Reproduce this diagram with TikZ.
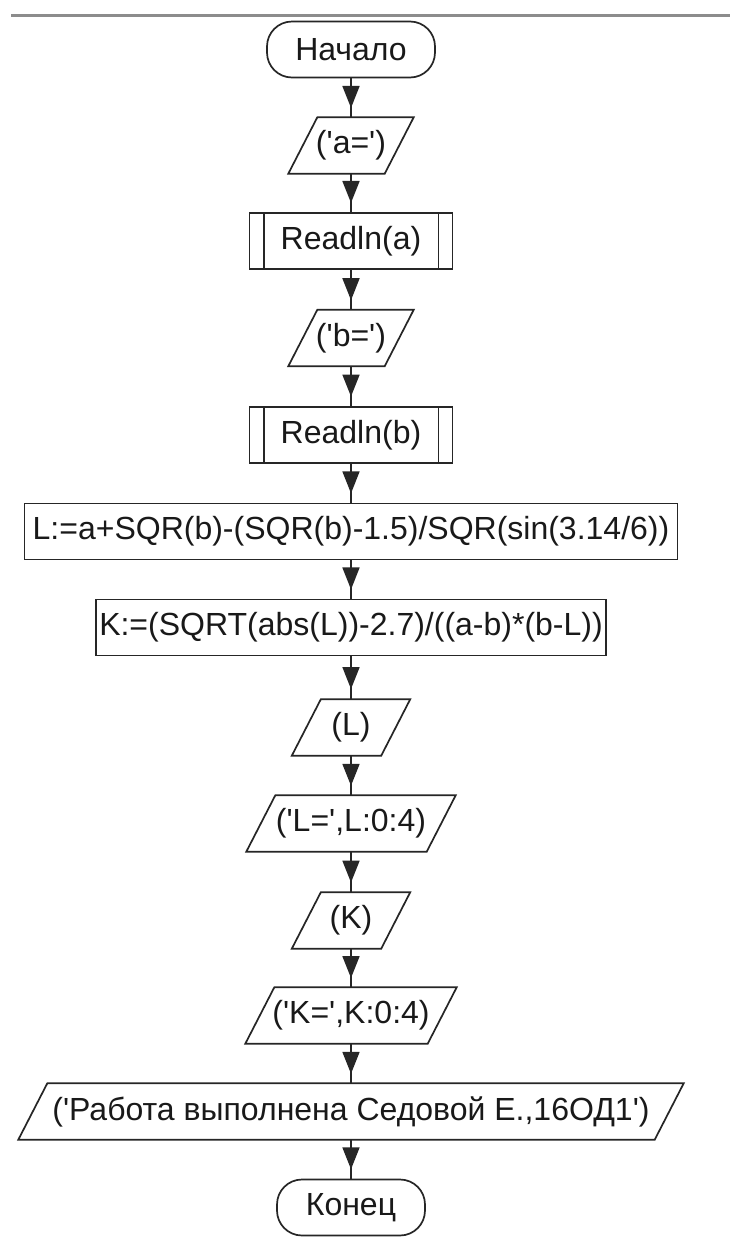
\documentclass[tikz,border=0pt]{standalone}
\usepackage{fontspec}
\setmainfont{Liberation Sans}
\usetikzlibrary{arrows.meta,decorations.markings}
\newcommand\sq{\textquotesingle}
\begin{document}
\begin{tikzpicture}[x=1pt,y=-1pt,
  every node/.style={font=\fontsize{32}{37}\selectfont, text=black!90, inner sep=0pt},
  outline/.style={draw=black!85, line width=1.7pt, line join=miter},
  blk/.style={outline, minimum height=56pt},
  term/.style={blk, rounded corners=25pt},
  iobox/.style={minimum height=56pt},
  flow/.style={draw=black!85, line width=1.8pt, postaction={decorate},
    decoration={markings, mark=at position 0.76 with {\arrow{Triangle[width=17pt,length=22pt]}}}},
]
% page
\fill[white] (0,0) rectangle (730,1240);
\useasboundingbox (0,0) rectangle (730,1240);
% rule across the top
\draw[draw=black!45, line width=3pt] (11,15) -- (730,15);

% input/output parallelogram: name, x, y, mid width, text
\newcommand\ioshape[5]{%
  \node[iobox, minimum width=#4] (#1) at (#2,#3) {#5};
  \draw[outline] ([xshift=14.5pt]#1.north west) -- ([xshift=14.5pt]#1.north east)
    -- ([xshift=-14.5pt]#1.south east) -- ([xshift=-14.5pt]#1.south west) -- cycle;}
% predefined-process box: name, x, y, width, text
\newcommand\subproc[5]{%
  \node[blk, minimum width=#4] (#1) at (#2,#3) {#5};
  \draw[outline] ([xshift=15pt]#1.north west) -- ([xshift=15pt]#1.south west);
  \draw[outline] ([xshift=-15pt]#1.north east) -- ([xshift=-15pt]#1.south east);}

\node[term, minimum width=168] (start) at (351,49.5) {Начало};
\ioshape{pa}{351}{145.5}{96}{(\sq a=\sq)}
\subproc{ra}{351}{241}{203}{Readln(a)}
\ioshape{pb}{351}{338}{96}{(\sq b=\sq)}
\subproc{rb}{351}{435}{203}{Readln(b)}
\node[blk, minimum width=653] (cl) at (351,531.5) {L:=a+SQR(b)-(SQR(b)-1.5)/SQR(sin(3.14/6))};
\node[blk, minimum width=510] (ck) at (351,627.5) {K:=(SQRT(abs(L))-2.7)/((a-b)*(b-L))};
\ioshape{ol}{351}{727.5}{89}{(L)}
\ioshape{olf}{351}{823.5}{180}{(\sq L=\sq,L:0:4)}
\ioshape{ok}{351}{920.5}{89}{(K)}
\ioshape{okf}{351}{1015.5}{182}{(\sq K=\sq,K:0:4)}
\ioshape{om}{351}{1111.5}{636}{(\sq Работа выполнена Седовой Е.,16ОД1\sq)}
\node[term, minimum width=148] (stop) at (351,1207.5) {Конец};

\draw[flow] (start.south) -- (pa.north);
\draw[flow] (pa.south) -- (ra.north);
\draw[flow] (ra.south) -- (pb.north);
\draw[flow] (pb.south) -- (rb.north);
\draw[flow] (rb.south) -- (cl.north);
\draw[flow] (cl.south) -- (ck.north);
\draw[flow] (ck.south) -- (ol.north);
\draw[flow] (ol.south) -- (olf.north);
\draw[flow] (olf.south) -- (ok.north);
\draw[flow] (ok.south) -- (okf.north);
\draw[flow] (okf.south) -- (om.north);
\draw[flow] (om.south) -- (stop.north);
\end{tikzpicture}
\end{document}
